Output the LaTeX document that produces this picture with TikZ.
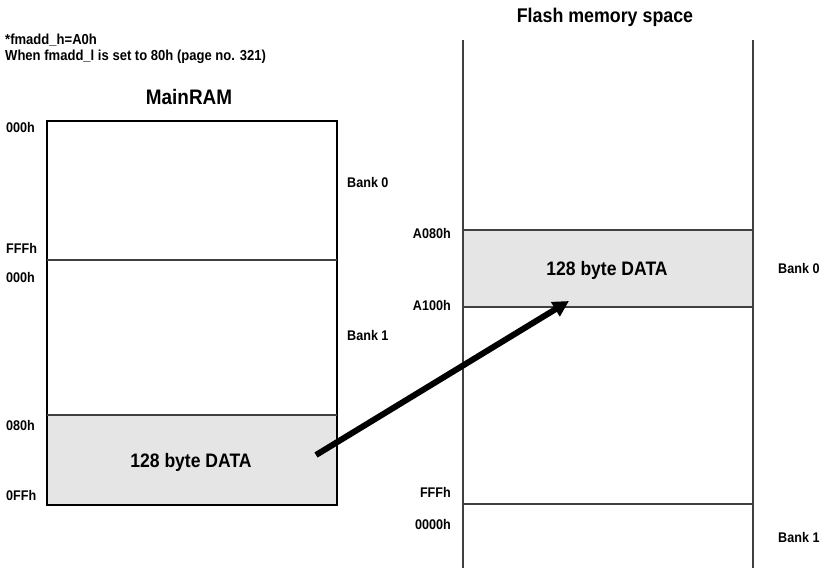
\documentclass[tikz,border=0pt]{standalone}
\usepackage{fontspec}
\setmainfont{Liberation Sans}[FakeStretch=0.9]
\usetikzlibrary{positioning, arrows.meta}

\definecolor{datagray}{RGB}{229,229,229}

\begin{document}
\begin{tikzpicture}[x=1pt, y=-1pt,
    lbl/.style={font=\bfseries\fontsize{14}{16}\selectfont, inner sep=0pt},
    note/.style={font=\bfseries\fontsize{14.5}{16}\selectfont, inner sep=0pt, anchor=base west},
    datatext/.style={font=\bfseries\fontsize{19.5}{22}\selectfont, inner sep=0pt, anchor=base},
    title/.style={font=\bfseries\fontsize{19.8}{22}\selectfont, inner sep=0pt, anchor=base},
    boxline/.style={line width=1.3pt, black},
    memline/.style={line width=1.3pt, black!75}]
    \useasboundingbox (0,0) rectangle (825,570);

    % MainRAM
    \fill[datagray] (47,415) rectangle (337,505);
    \draw[boxline] (47,121) rectangle (337,505);
    \draw[memline] (47,260) -- (337,260);
    \draw[memline] (47,415) -- (337,415);
    \node[datatext] (ramdata) at (191,467) {128 byte DATA};
    \node[title, font=\bfseries\fontsize{21}{23}\selectfont] (ramtitle) at (189,104) {MainRAM};

    \node[lbl, anchor=base west] (r000a) at (6,132) {000h};
    \node[lbl, anchor=base west] (rfff) at (6,253) {FFFh};
    \node[lbl, anchor=base west] (r000b) at (6,282) {000h};
    \node[lbl, anchor=base west] (r080) at (6,430) {080h};
    \node[lbl, anchor=base west] (r0ff) at (6,500) {0FFh};
    \node[lbl, anchor=base west] (rbank0) at (347,187) {Bank 0};
    \node[lbl, anchor=base west] (rbank1) at (347,340) {Bank 1};

    % Flash memory space
    \fill[datagray] (463,230) rectangle (753,307);
    \draw[memline] (463,40) -- (463,568);
    \draw[memline] (753,40) -- (753,568);
    \draw[memline] (463,230) -- (753,230);
    \draw[memline] (463,307) -- (753,307);
    \draw[memline] (463,504) -- (753,504);
    \node[datatext] (flashdata) at (607,275.5) {128 byte DATA};
    \node[title] (flashtitle) at (605,22) {Flash memory space};

    \node[lbl, anchor=base east] (fa080) at (451,238) {A080h};
    \node[lbl, anchor=base east] (fa100) at (451,310) {A100h};
    \node[lbl, anchor=base east] (ffff) at (451,497) {FFFh};
    \node[lbl, anchor=base east] (f0000) at (451,529) {0000h};
    \node[lbl, anchor=base west] (fbank0) at (778,273.5) {Bank 0};
    \node[lbl, anchor=base west] (fbank1) at (778,542.5) {Bank 1};

    % notes
    \node[note] (note1) at (5,44) {*fmadd\_h=A0h};
    \node[note] (note2) at (5,60) {When fmadd\_l is set to 80h (page no. 321)};

    % transfer arrow
    \coordinate (src) at (316,455);
    \coordinate (dst) at (569,301);
    \draw[line width=6pt, -{Triangle[length=16pt, width=16pt]}] (src) -- (dst);
\end{tikzpicture}
\end{document}
